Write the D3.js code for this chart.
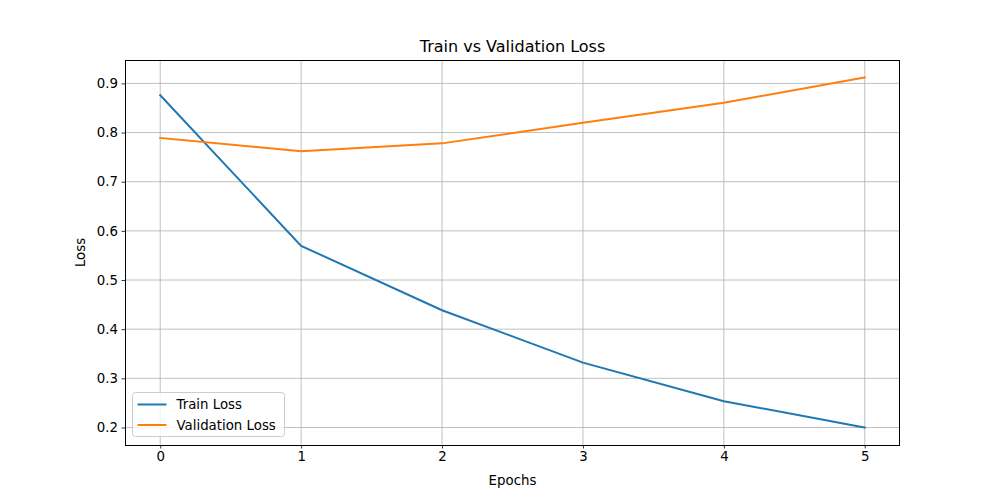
<!DOCTYPE html>
<html><head><meta charset="utf-8">
<script src="https://cdn.jsdelivr.net/npm/d3@7"></script>
<style>body{margin:0;background:#fff}svg{font-family:"DejaVu Sans",sans-serif}</style>
</head><body><svg id="c" width="1000" height="500"></svg>
<script>
const epochs = [0, 1, 2, 3, 4, 5];
const trainLoss = [0.876, 0.5695, 0.4385, 0.332, 0.2535, 0.200];
const valLoss = [0.789, 0.762, 0.778, 0.820, 0.8605, 0.912];
const yTicks = [0.2, 0.3, 0.4, 0.5, 0.6, 0.7, 0.8, 0.9];
const seriesNames = ["Train Loss", "Validation Loss"];
const colors = ["#1f77b4", "#ff7f0e"];

const svg = d3.select("#c");
const L = 125, R = 900, T = 60, B = 445;
const allY = trainLoss.concat(valLoss);
const yMin = d3.min(allY), yMax = d3.max(allY), yPad = (yMax - yMin) * 0.05;
const x = d3.scaleLinear().domain([-0.25, 5.25]).range([L, R]);
const y = d3.scaleLinear().domain([yMin - yPad, yMax + yPad]).range([B, T]);

const g = svg.append("g");
// grid
g.selectAll(".gx").data(epochs).enter().append("line")
  .attr("x1", d => x(d)).attr("x2", d => x(d)).attr("y1", T).attr("y2", B)
  .attr("stroke", "#b0b0b0").attr("stroke-width", 0.8);
g.selectAll(".gy").data(yTicks).enter().append("line")
  .attr("y1", d => y(d)).attr("y2", d => y(d)).attr("x1", L).attr("x2", R)
  .attr("stroke", "#b0b0b0").attr("stroke-width", 0.8);

// axes
const xAxis = d3.axisBottom(x).tickValues(epochs).tickFormat(d3.format("d")).tickSize(3.5).tickPadding(3.5);
const yAxis = d3.axisLeft(y).tickValues(yTicks).tickFormat(d3.format(".1f")).tickSize(3.5).tickPadding(3.5);
const gx = svg.append("g").attr("transform", `translate(0,${B})`).call(xAxis);
const gy = svg.append("g").attr("transform", `translate(${L},0)`).call(yAxis);
[gx, gy].forEach(a => {
  a.select(".domain").remove();
  a.selectAll("line").attr("stroke", "#000").attr("stroke-width", 0.8);
  a.selectAll("text").attr("fill", "#000").style("font-size", "13.33px").style("font-family", "DejaVu Sans");
});

// lines
const line = d3.line().x((d, i) => x(epochs[i])).y(d => y(d));
[trainLoss, valLoss].forEach((s, k) => {
  svg.append("path").datum(s).attr("d", line).attr("fill", "none")
    .attr("stroke", colors[k]).attr("stroke-width", 2).attr("stroke-linecap", "square");
});

// frame
svg.append("rect").attr("x", L + 0.5).attr("y", T + 0.5).attr("width", R - L - 1).attr("height", B - T)
  .attr("fill", "none").attr("stroke", "#000").attr("stroke-width", 1);

// labels
svg.append("text").attr("x", (L + R) / 2).attr("y", T - 8).attr("text-anchor", "middle")
  .style("font-size", "16px").text("Train vs Validation Loss");
svg.append("text").attr("x", (L + R) / 2).attr("y", 485).attr("text-anchor", "middle")
  .style("font-size", "13.33px").text("Epochs");
svg.append("text").attr("transform", `translate(85,${(T + B) / 2}) rotate(-90)`).attr("text-anchor", "middle")
  .style("font-size", "13.33px").text("Loss");

// legend
const lg = svg.append("g").attr("transform", "translate(132.5,392.5)");
lg.append("rect").attr("width", 152).attr("height", 44).attr("rx", 3)
  .attr("fill", "#fff").attr("fill-opacity", 0.8).attr("stroke", "#cccccc").attr("stroke-width", 1);
seriesNames.forEach((n, k) => {
  const yy = 12 + k * 20.5;
  lg.append("line").attr("x1", 5).attr("x2", 34).attr("y1", yy).attr("y2", yy)
    .attr("stroke", colors[k]).attr("stroke-width", 2);
  lg.append("text").attr("x", 44).attr("y", yy + 4.8).style("font-size", "13.33px").text(n);
});
</script></body></html>
